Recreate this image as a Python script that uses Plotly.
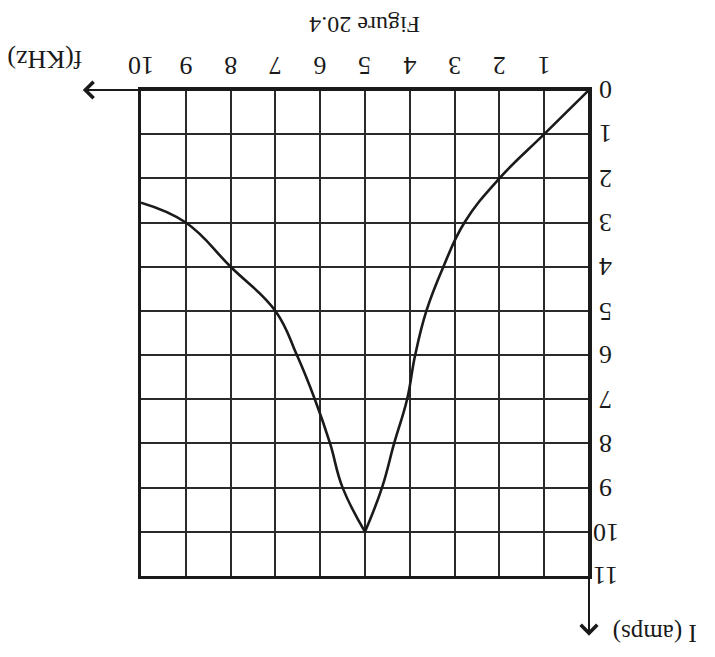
import plotly.graph_objects as go

# Data read from the (upside-down) reference, Figure 20.4
f_right = [0, 1, 2, 2.78, 3.25, 3.63, 3.88, 4.06, 4.35, 4.62, 5.0]
i_right = [0, 1, 2, 3, 4, 5, 6, 7, 8, 9, 10]
f_left = [5.0, 5.5, 5.78, 6.12, 6.52, 7, 8, 9, 10]
i_left = [10, 9, 8, 7, 6, 5, 4, 3, 2.55]

x_ticks = [1, 2, 3, 4, 5, 6, 7, 8, 9, 10]
x_tick_text = ["1", "2", "3", "4", "5", "6", "7", "8", "9", "10"]
y_ticks = [0, 1, 2, 3, 4, 5, 6, 7, 8, 9, 10, 11]
y_tick_text = ["0", "1", "2", "3", "4", "5", "6", "7", "8", "9", "10", "11"]

FONT = "Liberation Serif"
INK = "#1a1a1a"

fig = go.Figure()
for fx, iy in [(f_right, i_right), (f_left, i_left)]:
    fig.add_trace(go.Scatter(x=fx, y=iy, mode="lines",
                             line=dict(color=INK, width=2.6, shape="spline", smoothing=1.2),
                             showlegend=False, hoverinfo="skip"))

annotations = []
for v, t in zip(x_ticks, x_tick_text):
    annotations.append(dict(x=v, xref="x", y=1, yref="paper", yshift=24, text=t,
                            showarrow=False, textangle=180, xanchor="center", yanchor="middle",
                            font=dict(family=FONT, size=26, color=INK)))
for v, t in zip(y_ticks, y_tick_text):
    annotations.append(dict(x=1, xref="paper", xshift=17, y=v, yref="y", text=t,
                            showarrow=False, textangle=180, xanchor="center", yanchor="middle",
                            font=dict(family=FONT, size=26, color=INK)))
# axis arrows
annotations.append(dict(x=11.3, y=0, xref="x", yref="y", ax=0, ay=0, axref="x", ayref="y",
                        text="", showarrow=True, arrowhead=4, arrowsize=1.6, arrowwidth=2,
                        arrowcolor=INK))
annotations.append(dict(x=0, y=12.35, xref="x", yref="y", ax=0, ay=0, axref="x", ayref="y",
                        text="", showarrow=True, arrowhead=4, arrowsize=1.6, arrowwidth=2,
                        arrowcolor=INK))
# titles (upside down like the reference)
annotations.append(dict(x=0.5, xref="paper", y=1, yref="paper", yshift=65, text="Figure 20.4",
                        showarrow=False, textangle=180, xanchor="center", yanchor="middle",
                        font=dict(family=FONT, size=24, color=INK)))
annotations.append(dict(x=-0.215, xref="paper", y=1, yref="paper", yshift=30, text="f(KHz)",
                        showarrow=False, textangle=180, xanchor="center", yanchor="middle",
                        font=dict(family=FONT, size=26, color=INK)))
annotations.append(dict(x=1.147, xref="paper", y=0, yref="paper", yshift=-57, text="I (amps)",
                        showarrow=False, textangle=180, xanchor="center", yanchor="middle",
                        font=dict(family=FONT, size=25, color=INK)))

axis_common = dict(showgrid=True, dtick=1, gridcolor="#2a2a2a", gridwidth=2,
                   showline=True, mirror=True, linecolor=INK, linewidth=2.5,
                   zeroline=False, showticklabels=False, ticks="", fixedrange=True)

# page has an 8px body margin, so the figure is sized to fit the 715x657 window
fig.update_layout(
    width=707, height=649,
    margin=dict(l=133, r=126, t=82, b=81),
    paper_bgcolor="white", plot_bgcolor="white",
    xaxis=dict(range=[10, 0], tick0=0, **axis_common),
    yaxis=dict(range=[11, 0], tick0=0, **axis_common),
    annotations=annotations,
)

fig.write_html("out.html")
